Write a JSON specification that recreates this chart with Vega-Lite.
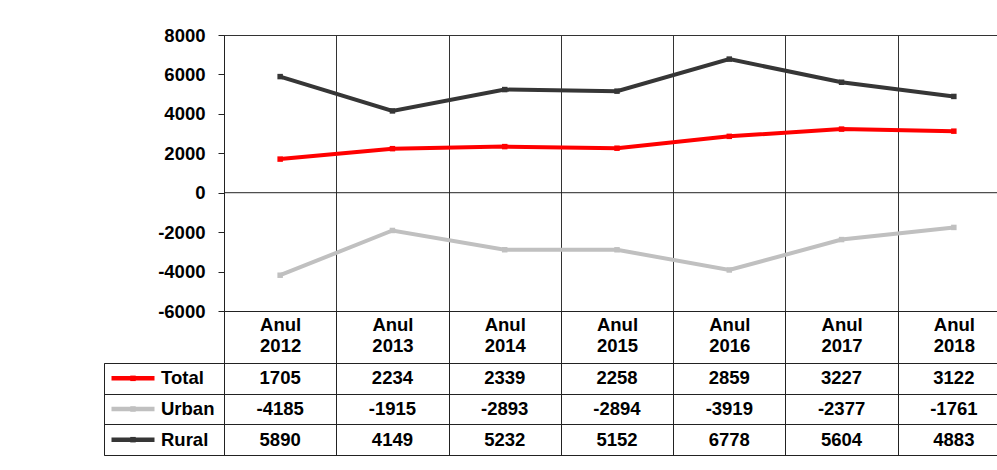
{
  "$schema": "https://vega.github.io/schema/vega-lite/v6.json",
  "background": "white",
  "padding": {"left": 102, "top": 25, "right": 0, "bottom": 0},
  "config": {
    "font": "Liberation Sans",
    "view": {"stroke": null},
    "axis": {"labelFont": "Liberation Sans", "labelFontWeight": "bold", "labelFontSize": 18.5, "labelColor": "#000000"}
  },
  "datasets": {
    "d": [
      {"year": "2012", "series": "Total", "value": 1705},
      {"year": "2013", "series": "Total", "value": 2234},
      {"year": "2014", "series": "Total", "value": 2339},
      {"year": "2015", "series": "Total", "value": 2258},
      {"year": "2016", "series": "Total", "value": 2859},
      {"year": "2017", "series": "Total", "value": 3227},
      {"year": "2018", "series": "Total", "value": 3122},
      {"year": "2012", "series": "Urban", "value": -4185},
      {"year": "2013", "series": "Urban", "value": -1915},
      {"year": "2014", "series": "Urban", "value": -2893},
      {"year": "2015", "series": "Urban", "value": -2894},
      {"year": "2016", "series": "Urban", "value": -3919},
      {"year": "2017", "series": "Urban", "value": -2377},
      {"year": "2018", "series": "Urban", "value": -1761},
      {"year": "2012", "series": "Rural", "value": 5890},
      {"year": "2013", "series": "Rural", "value": 4149},
      {"year": "2014", "series": "Rural", "value": 5232},
      {"year": "2015", "series": "Rural", "value": 5152},
      {"year": "2016", "series": "Rural", "value": 6778},
      {"year": "2017", "series": "Rural", "value": 5604},
      {"year": "2018", "series": "Rural", "value": 4883}
    ],
    "labels": [
      {"series": "Total"},
      {"series": "Urban"},
      {"series": "Rural"}
    ]
  },
  "columns": 2,
  "spacing": {"row": 52, "column": 0},
  "bounds": "flush",
  "concat": [
    {
      "width": 120,
      "height": 276,
      "data": {"values": [{}]},
      "mark": {"type": "text", "text": ""}
    },
    {
      "width": 786,
      "height": 276,
      "view": {"stroke": "#333333", "strokeWidth": 1},
      "layer": [
        {
          "data": {"name": "d"},
          "mark": {"type": "line", "strokeWidth": 4},
          "encoding": {
            "x": {
              "field": "year", "type": "nominal",
              "scale": {"type": "band", "paddingInner": 0, "paddingOuter": 0},
              "axis": {
                "title": null, "labelAngle": 0, "tickBand": "extent", "tickSize": 52,
                "tickColor": "#222222", "domainColor": "#222222",
                "grid": true, "gridColor": "#333333", "gridOpacity": 1,
                "labelExpr": "datum.label ? ['Anul', datum.label] : ''", "labelBaseline": "top",
                "labelLineHeight": 21, "labelPadding": -48, "labelOverlap": false
              }
            },
            "y": {
              "field": "value", "type": "quantitative",
              "scale": {"domain": [-6000, 8000], "nice": false, "zero": false},
              "axis": {
                "title": null, "tickCount": 8, "format": "d",
                "labelExpr": "replace(datum.label, '\u2212', '-')",
                "tickSize": 6, "tickColor": "#222222",
                "domainColor": "#222222", "labelPadding": 13, "grid": false,
                "labelOverlap": false
              }
            },
            "color": {
              "field": "series", "type": "nominal",
              "scale": {"domain": ["Total", "Urban", "Rural"], "range": ["#ff0000", "#c0c0c0", "#363636"]},
              "legend": null
            }
          }
        },
        {
          "data": {"name": "d"},
          "mark": {"type": "point", "shape": "square", "filled": true, "size": 30, "opacity": 1},
          "encoding": {
            "x": {"field": "year", "type": "nominal"},
            "y": {"field": "value", "type": "quantitative"},
            "color": {"field": "series", "type": "nominal", "legend": null}
          }
        },
        {
          "data": {"values": [{}]},
          "mark": {"type": "rule", "color": "#222222", "strokeWidth": 1},
          "encoding": {"y": {"datum": 0, "type": "quantitative"}}
        }
      ]
    },
    {
      "width": 120,
      "height": 92,
      "data": {"name": "labels"},
      "view": {"stroke": "#222222", "strokeWidth": 1},
      "encoding": {
        "y": {
          "field": "series", "type": "nominal", "sort": ["Total", "Urban", "Rural"],
          "scale": {"type": "band", "paddingInner": 0, "paddingOuter": 0},
          "axis": {"title": null, "labels": false, "ticks": false, "domain": false, "grid": true, "tickBand": "extent", "gridColor": "#222222", "gridOpacity": 1}
        }
      },
      "layer": [
        {
          "mark": {"type": "point", "shape": "stroke", "size": 1849, "strokeWidth": 4.5, "filled": false, "opacity": 1, "xOffset": -31},
          "encoding": {"color": {"field": "series", "type": "nominal", "legend": null}}
        },
        {
          "mark": {"type": "point", "shape": "square", "size": 30, "filled": true, "opacity": 1, "xOffset": -31},
          "encoding": {"color": {"field": "series", "type": "nominal", "legend": null}}
        },
        {
          "mark": {"type": "text", "align": "left", "baseline": "middle", "dx": -3, "fontWeight": "bold", "fontSize": 18.5, "color": "#000000"},
          "encoding": {"text": {"field": "series", "type": "nominal"}}
        }
      ]
    },
    {
      "width": 786,
      "height": 92,
      "data": {"name": "d"},
      "view": {"stroke": "#222222", "strokeWidth": 1},
      "mark": {"type": "text", "fontWeight": "bold", "fontSize": 18.5, "color": "#000000", "baseline": "middle"},
      "encoding": {
        "x": {
          "field": "year", "type": "nominal",
          "scale": {"type": "band", "paddingInner": 0, "paddingOuter": 0},
          "axis": {"title": null, "labels": false, "ticks": false, "domain": false, "grid": true, "tickBand": "extent", "gridColor": "#222222", "gridOpacity": 1}
        },
        "y": {
          "field": "series", "type": "nominal", "sort": ["Total", "Urban", "Rural"],
          "scale": {"type": "band", "paddingInner": 0, "paddingOuter": 0},
          "axis": {"title": null, "labels": false, "ticks": false, "domain": false, "grid": true, "tickBand": "extent", "gridColor": "#222222", "gridOpacity": 1}
        },
        "text": {"field": "value", "type": "nominal"}
      }
    }
  ]
}
